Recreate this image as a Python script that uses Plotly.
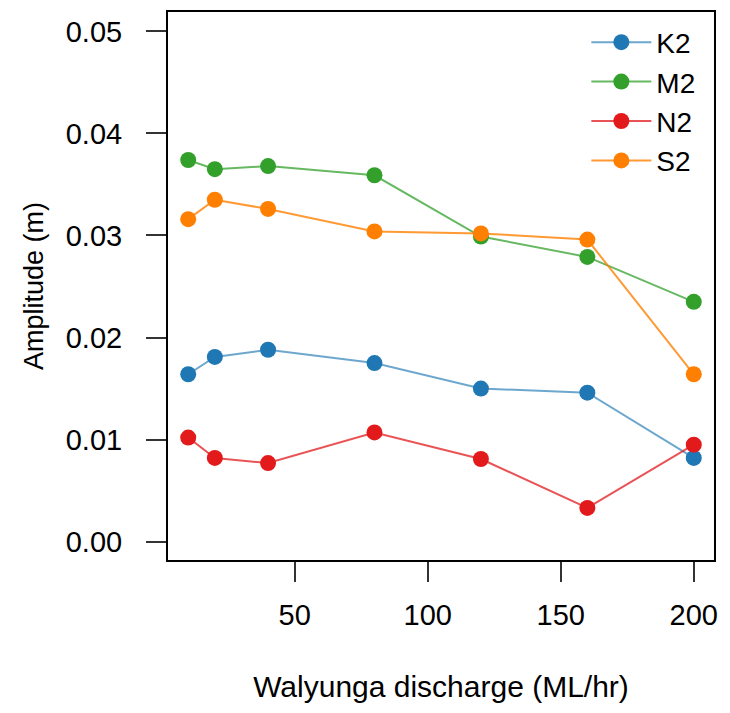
import plotly.graph_objects as go

# Discharge levels (ML/hr) and tidal constituent amplitudes (m)
discharge = [10, 20, 40, 80, 120, 160, 200]
k2 = [0.0164, 0.0181, 0.0188, 0.0175, 0.0150, 0.0146, 0.0082]
m2 = [0.0374, 0.0365, 0.0368, 0.0359, 0.0299, 0.0279, 0.0235]
n2 = [0.0102, 0.0082, 0.0077, 0.0107, 0.0081, 0.0033, 0.0095]
s2 = [0.0316, 0.0335, 0.0326, 0.0304, 0.0302, 0.0296, 0.0164]

series_names = ["K2", "M2", "N2", "S2"]
series_values = [k2, m2, n2, s2]
marker_colors = ["#1f78b4", "#33a02c", "#e31a1c", "#ff7f00"]
line_colors = ["rgba(31,120,180,0.65)", "rgba(51,160,44,0.75)",
               "rgba(227,26,28,0.75)", "rgba(255,127,0,0.8)"]

FONT = "Arial, Liberation Sans, sans-serif"

fig = go.Figure()
for name, vals, mc, lc in zip(series_names, series_values, marker_colors, line_colors):
    fig.add_trace(go.Scatter(
        x=discharge, y=vals, name=name, mode="lines+markers",
        line=dict(color=lc, width=2),
        marker=dict(color=mc, size=16),
    ))

axis_common = dict(
    showline=True, mirror=True, linecolor="black", linewidth=2,
    ticks="outside", ticklen=20, tickwidth=2, tickcolor="#333333",
    showgrid=False, zeroline=False,
    tickfont=dict(family=FONT, size=29, color="black"),
)

fig.update_layout(
    width=730, height=713,
    margin=dict(l=168, r=16, t=10, b=153),
    paper_bgcolor="white", plot_bgcolor="white",
    font=dict(family=FONT, color="black"),
    xaxis=dict(
        range=[2.4, 207.6], tickvals=[50, 100, 150, 200],
        ticklabelstandoff=8,
        title=dict(text="Walyunga discharge (ML/hr)",
                   font=dict(family=FONT, size=30, color="black"), standoff=46),
        **axis_common,
    ),
    yaxis=dict(
        range=[-0.0018, 0.0519], tickvals=[0, 0.01, 0.02, 0.03, 0.04, 0.05],
        ticktext=["0.00", "0.01", "0.02", "0.03", "0.04", "0.05"],
        ticklabelstandoff=18,
        title=dict(text="Amplitude (m)",
                   font=dict(family=FONT, size=27, color="black"), standoff=14),
        **axis_common,
    ),
    legend=dict(
        x=0.975, y=0.99, xanchor="right", yanchor="top",
        bgcolor="rgba(0,0,0,0)", borderwidth=0,
        font=dict(family=FONT, size=28, color="black"),
        itemwidth=60,
    ),
    showlegend=True,
)

fig.write_html("out.html")
